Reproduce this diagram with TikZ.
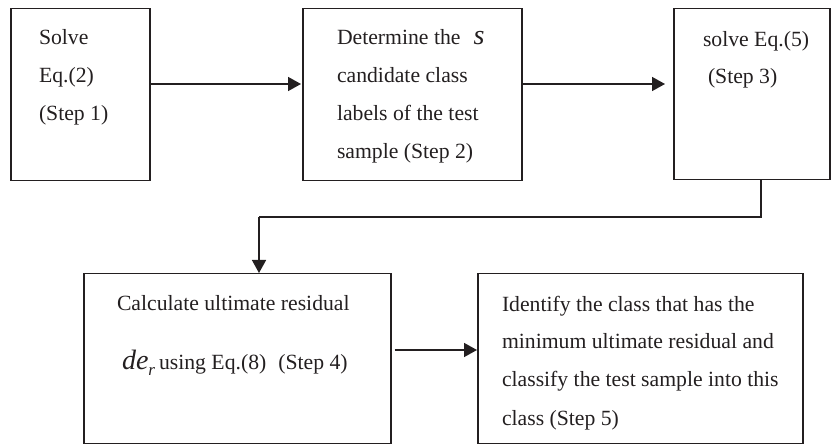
\documentclass[tikz,border=0pt]{standalone}
\usepackage{fontspec}
\setmainfont{Liberation Serif}
\usetikzlibrary{arrows.meta}
\definecolor{ink}{RGB}{35,31,32}
\tikzset{
  stepbox/.style={draw=ink, line width=1.5bp, fill=none},
  txt/.style={anchor=base west, inner sep=0pt, outer sep=0pt, text=ink,
    font=\fontsize{21.7bp}{26bp}\selectfont},
  conn/.style={draw=ink, line width=1.5bp, -{Triangle[length=13bp,width=14bp]}},
  plain/.style={draw=ink, line width=1.5bp}
}
\newcommand{\bigit}{\fontsize{28bp}{28bp}\selectfont\itshape}
\newcommand{\subit}{\fontsize{17bp}{17bp}\selectfont\itshape}
\begin{document}
\begin{tikzpicture}[x=1bp,y=-1bp]
\useasboundingbox (0,0) rectangle (831,444);
% boxes
\node[stepbox, anchor=north west, minimum width=139bp, minimum height=172bp, inner sep=0pt] (b1) at (10,8) {};
\node[stepbox, anchor=north west, minimum width=219bp, minimum height=172bp, inner sep=0pt] (b2) at (302,8) {};
\node[stepbox, anchor=north west, minimum width=156bp, minimum height=171bp, inner sep=0pt] (b3) at (673,8) {};
\node[stepbox, anchor=north west, minimum width=307bp, minimum height=170bp, inner sep=0pt] (b4) at (83,273) {};
\node[stepbox, anchor=north west, minimum width=325bp, minimum height=170bp, inner sep=0pt] (b5) at (477,273) {};
% texts box 1
\node[txt] (t11) at (39,45) {Solve};
\node[txt] (t12) at (39,83) {Eq.(2)};
\node[txt] (t13) at (39,121) {(Step 1)};
% box 2
\node[txt] (t21) at (337,45) {Determine the\hspace{13bp}{\bigit s}};
\node[txt] (t22) at (337,83) {candidate class};
\node[txt] (t23) at (337,121) {labels of the test};
\node[txt] (t24) at (337,159) {sample (Step 2)};
% box 3
\node[txt] (t31) at (703,47) {solve Eq.(5)};
\node[txt] (t32) at (708,84) {(Step 3)};
% box 4
\node[txt] (t41) at (117,311) {Calculate ultimate residual};
\node[txt] (t42) at (122,370) {{\bigit de}\raisebox{-6bp}{\subit r}\hspace{4bp}using Eq.(8)\hspace{12bp}(Step 4)};
% box 5
\node[txt] (t51) at (502,312) {Identify the class that has the};
\node[txt] (t52) at (502,349) {minimum ultimate residual and};
\node[txt] (t53) at (502,387) {classify the test sample into this};
\node[txt] (t54) at (502,425) {class (Step 5)};
% connectors
\coordinate (tr) at (761,217);
\coordinate (tl) at (259,217);
\draw[conn, shorten >=1bp] (b1.east |- 0,84) -- (b2.west |- 0,84);
\draw[conn, shorten >=8bp] (b2.east |- 0,84) -- (b3.west |- 0,84);
\draw[plain] (b3.south -| tr) -- (tr) -- (tl);
\draw[conn] (tl) -- (b4.north -| tl);
\draw[conn, shorten <=3bp] (b4.east |- 0,350) -- (b5.west |- 0,350);
\end{tikzpicture}
\end{document}
